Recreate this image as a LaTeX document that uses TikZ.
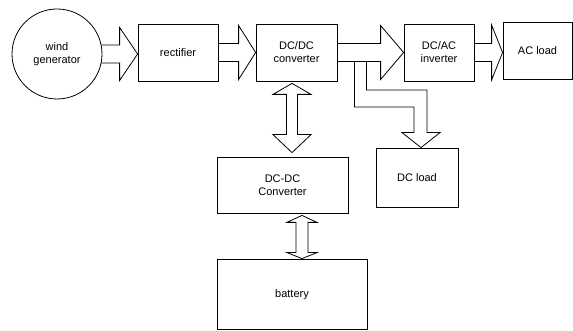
\documentclass[tikz,border=0pt]{standalone}
\usepackage{fontspec}
\setmainfont{Liberation Sans}
\usetikzlibrary{calc}

% horizontal block arrow: tail, tip, shaft half width, head half width, head length
\newcommand{\fatarrow}[5]{%
	\draw[fat] ($(#1)+(0,-#3)$) -- ($(#2)+(-#5,-#3)$) -- ($(#2)+(-#5,-#4)$) -- (#2)
		-- ($(#2)+(-#5,#4)$) -- ($(#2)+(-#5,#3)$) -- ($(#1)+(0,#3)$);}
% vertical double block arrow: top tip, bottom tip, shaft half, head half, top head, bottom head
\newcommand{\fatupdown}[6]{%
	\draw[fat] (#1) -- ($(#1)+(#4,#5)$) -- ($(#1)+(#3,#5)$) -- ($(#2)+(#3,-#6)$)
		-- ($(#2)+(#4,-#6)$) -- (#2) -- ($(#2)+(-#4,-#6)$) -- ($(#2)+(-#3,-#6)$)
		-- ($(#1)+(-#3,#5)$) -- ($(#1)+(-#4,#5)$) -- cycle;}

\tikzset{
	box/.style={draw,line width=0.8pt,inner sep=0pt,align=center,
		font=\fontsize{11}{13}\selectfont},
	fat/.style={draw,line width=0.8pt,line join=miter}
}

\begin{document}
\begin{tikzpicture}[x=1pt,y=-1pt]
		\useasboundingbox (0,0) rectangle (573,331);
		
		% blocks
		\node[box,circle,minimum size=90pt] (gen) at (57,54) {wind\\generator};
		\node[box,minimum width=80pt,minimum height=57pt] (rect) at (178,52.5) {rectifier};
		\node[box,minimum width=81pt,minimum height=57pt] (dcdc) at (296.5,52.5) {DC/DC\\converter};
		\node[box,minimum width=70pt,minimum height=57pt] (dcac) at (439,52.5) {DC/AC\\inverter};
		\node[box,minimum width=69pt,minimum height=57pt] (acload) at (537.5,50.5) {AC load};
		\node[box,minimum width=131pt,minimum height=56pt] (conv) at (282.5,185) {DC-DC\\Converter};
		\node[box,minimum width=82pt,minimum height=59pt] (dcload) at (417,177.5) {DC load};
		\node[box,minimum width=150pt,minimum height=70.5pt] (batt) at (292,294.25) {battery};
		
		% arrow ends
		\coordinate (gentail) at ($(gen.east)+(-1,0)$);
		\coordinate (recttip) at (rect.west |- gen.east);
		\coordinate (actip) at (acload.west |- dcac.east);
		\coordinate (convtop) at ($(dcdc.south)+(-4.5,2)$);
		\coordinate (convbot) at ($(conv.north)+(9.5,-4)$);
		\coordinate (batttop) at ($(conv.south)+(19.5,2)$);
		\coordinate (battbot) at ($(batt.north)+(10,0)$);
		\coordinate (branch) at ($(dcdc.east)+(17,9)$);
		\coordinate (dctip) at ($(dcload.north)+(4,0)$);
		
		% main power path
		\fatarrow{gentail}{recttip}{9}{26.5}{18}
		\fatarrow{rect.east}{dcdc.west}{9}{27}{17}
		\fatarrow{dcdc.east}{dcac.west}{9}{27}{23}
		\fatarrow{dcac.east}{actip}{9}{27.5}{11}
		
		% storage path
		\fatupdown{convtop}{convbot}{5.5}{19}{11}{18}
		\fatupdown{batttop}{battbot}{6}{15}{7}{6}
		
		% branch to DC load
		\draw[fat] (branch) -- ++(0,45.5) -| ($(dctip)+(-7,-15)$) -- ++(-12,0) -- (dctip)
			-- ++(19,-15) -- ++(-13,0) |- ($(branch)+(12,28.5)$) -- ++(0,-28.5);
	\end{tikzpicture}
\end{document}
